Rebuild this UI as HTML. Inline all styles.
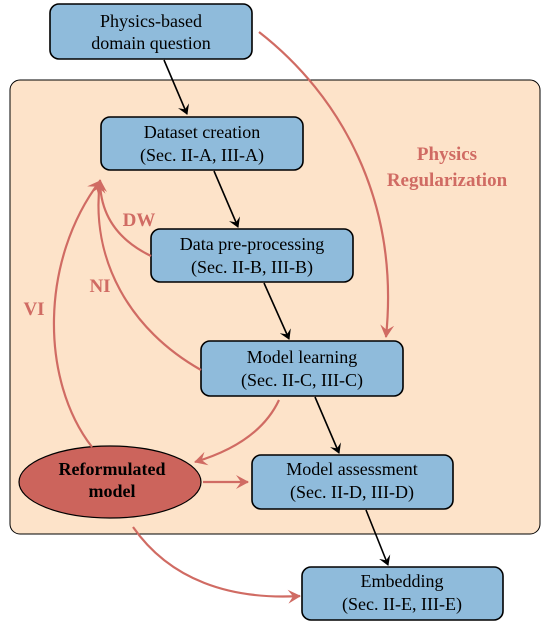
<!DOCTYPE html>
<html><head><meta charset="utf-8"><style>
html,body{margin:0;padding:0;background:#fff;}
svg{display:block;}
text{font-family:"Liberation Serif","Times New Roman",serif;font-size:18px;fill:#000;}
.r{fill:#d06b63;font-weight:bold;font-size:19px;}
</style></head><body>
<svg width="546" height="626" viewBox="0 0 546 626" xmlns="http://www.w3.org/2000/svg">
<defs>
<marker id="ab" markerWidth="12" markerHeight="12" refX="9" refY="6" orient="auto" markerUnits="userSpaceOnUse"><path d="M0,0 L10,6 L0,12 L4,6 Z" fill="#000"/></marker>
<marker id="ar" markerWidth="16" markerHeight="14" refX="12" refY="7" orient="auto" markerUnits="userSpaceOnUse"><path d="M0,0 L13,7 L0,14 L5,7 Z" fill="#d06b63"/></marker>
</defs>
<rect x="10" y="80" width="530" height="454" rx="10" fill="#fde3c9" stroke="#000" stroke-width="1"/>
<g fill="#8fbbdb" stroke="#000" stroke-width="1.6">
<rect x="50" y="4" width="202" height="55" rx="9"/>
<rect x="101" y="117" width="202" height="53" rx="9"/>
<rect x="151" y="229" width="202" height="53" rx="9"/>
<rect x="201" y="341" width="202" height="55" rx="9"/>
<rect x="252" y="455" width="201" height="54" rx="9"/>
<rect x="302" y="567" width="201" height="53" rx="9"/>
</g>
<ellipse cx="110" cy="482" rx="91" ry="36" fill="#cc645c" stroke="#000" stroke-width="1.2"/>
<g stroke="#000" stroke-width="1.6" fill="none" marker-end="url(#ab)">
<path d="M164,60 L187,114"/>
<path d="M214,171 L238,227"/>
<path d="M264,283 L289,339"/>
<path d="M315,397 L339,453"/>
<path d="M366,510 L388,565"/>
</g>
<g stroke="#d06b63" stroke-width="2.2" fill="none" marker-end="url(#ar)">
<path d="M259,32 C340,95 400,200 386,337"/>
<path d="M151,256 C118,240 100,215 100,180"/>
<path d="M201,370 C130,330 90,260 100,181"/>
<path d="M92,447 C40,380 40,260 100,181"/>
<path d="M279,400 C265,430 235,450 195,462"/>
<path d="M203,482 L248,482"/>
<path d="M133,527 C170,580 230,600 300,596"/>
</g>
<g text-anchor="middle">
<text x="151" y="27">Physics-based</text>
<text x="151" y="49">domain question</text>
<text x="202" y="138">Dataset creation</text>
<text x="202" y="161">(Sec. II-A, III-A)</text>
<text x="252" y="250">Data pre-processing</text>
<text x="252" y="273">(Sec. II-B, III-B)</text>
<text x="302" y="363">Model learning</text>
<text x="302" y="386">(Sec. II-C, III-C)</text>
<text x="352" y="475">Model assessment</text>
<text x="352" y="498">(Sec. II-D, III-D)</text>
<text x="402" y="587">Embedding</text>
<text x="402" y="610">(Sec. II-E, III-E)</text>
<text x="112" y="475" style="font-weight:bold">Reformulated</text>
<text x="112" y="497" style="font-weight:bold">model</text>
<text x="447" y="160" class="r">Physics</text>
<text x="447" y="186" class="r">Regularization</text>
<text x="139" y="226" class="r">DW</text>
<text x="100" y="292" class="r">NI</text>
<text x="34" y="315" class="r">VI</text>
</g>
</svg>
</body></html>
